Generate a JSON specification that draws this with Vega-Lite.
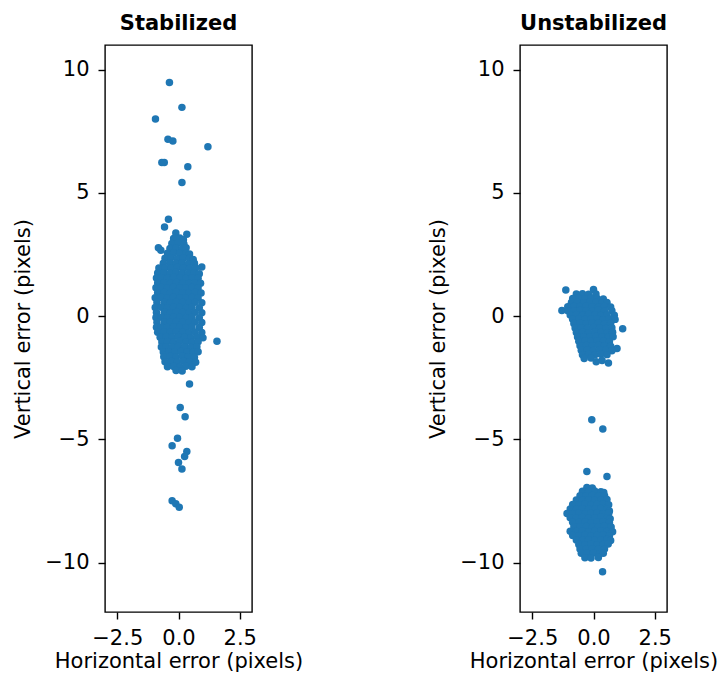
{
"$schema": "https://vega.github.io/schema/vega-lite/v6.json",
"background": "white",
"padding": {"left": 11, "top": 12, "right": 5, "bottom": 5},
"datasets": {
"stab": [
{"x":-0.37,"y":9.48},{"x":0.14,"y":8.47},{"x":-0.94,"y":8.0},{"x":-0.43,"y":7.18},{"x":-0.23,"y":7.11},{"x":1.2,"y":6.87},{"x":-0.68,"y":6.23},{"x":-0.58,"y":6.23},{"x":0.38,"y":6.06},{"x":0.14,"y":5.42},{"x":-0.41,"y":3.93},{"x":-0.57,"y":3.62},{"x":0.95,"y":1.99},{"x":1.57,"y":-1.02},{"x":0.45,"y":-2.75},{"x":0.07,"y":-3.7},{"x":0.27,"y":-4.08},{"x":-0.04,"y":-4.95},{"x":-0.26,"y":-5.26},{"x":0.34,"y":-5.49},{"x":0.25,"y":-5.69},{"x":0.0,"y":-5.94},{"x":0.14,"y":-6.2},{"x":-0.26,"y":-7.49},{"x":-0.11,"y":-7.61},{"x":0.03,"y":-7.75},
{"x":-0.82,"y":2.78},{"x":-0.72,"y":2.67},
{"x":-0.11,"y":3.37},{"x":0.34,"y":3.32},
{"x":-0.2,"y":3.15},{"x":0.05,"y":3.17},{"x":0.2,"y":3.1},
{"x":-0.27,"y":2.95},{"x":-0.02,"y":2.97},{"x":0.22,"y":2.93},
{"x":-0.35,"y":2.75},{"x":-0.1,"y":2.77},{"x":0.15,"y":2.74},{"x":0.31,"y":2.78},
{"x":-0.45,"y":2.55},{"x":-0.2,"y":2.57},{"x":0.05,"y":2.54},{"x":0.3,"y":2.56},{"x":0.45,"y":2.52},
{"x":-0.55,"y":2.35},{"x":-0.3,"y":2.37},{"x":-0.05,"y":2.33},{"x":0.2,"y":2.36},{"x":0.45,"y":2.34},{"x":0.6,"y":2.3},
{"x":-0.62,"y":2.15},{"x":-0.35,"y":2.17},{"x":-0.1,"y":2.14},{"x":0.15,"y":2.16},{"x":0.4,"y":2.13},{"x":0.65,"y":2.15},
{"x":-0.8,"y":1.95},{"x":-0.55,"y":1.96},{"x":-0.3,"y":1.94},{"x":-0.05,"y":1.97},{"x":0.2,"y":1.95},{"x":0.45,"y":1.93},{"x":0.7,"y":1.96},
{"x":-0.85,"y":1.75},{"x":-0.6,"y":1.76},{"x":-0.35,"y":1.74},{"x":-0.1,"y":1.77},{"x":0.15,"y":1.75},{"x":0.4,"y":1.73},{"x":0.65,"y":1.76},{"x":0.85,"y":1.72},
{"x":-0.9,"y":1.55},{"x":-0.7,"y":1.56},{"x":-0.45,"y":1.54},{"x":-0.2,"y":1.57},{"x":0.05,"y":1.55},{"x":0.3,"y":1.53},{"x":0.55,"y":1.56},{"x":0.8,"y":1.54},
{"x":-0.85,"y":1.35},{"x":-0.58,"y":1.36},{"x":-0.33,"y":1.34},{"x":-0.08,"y":1.37},{"x":0.17,"y":1.35},{"x":0.42,"y":1.33},{"x":0.67,"y":1.36},{"x":0.9,"y":1.34},
{"x":-0.92,"y":1.15},{"x":-0.7,"y":1.16},{"x":-0.45,"y":1.14},{"x":-0.2,"y":1.17},{"x":0.05,"y":1.15},{"x":0.3,"y":1.13},{"x":0.55,"y":1.16},{"x":0.8,"y":1.14},
{"x":-0.85,"y":0.95},{"x":-0.58,"y":0.96},{"x":-0.33,"y":0.94},{"x":-0.08,"y":0.97},{"x":0.17,"y":0.95},{"x":0.42,"y":0.93},{"x":0.67,"y":0.96},{"x":0.92,"y":0.94},
{"x":-0.95,"y":0.75},{"x":-0.7,"y":0.76},{"x":-0.45,"y":0.74},{"x":-0.2,"y":0.77},{"x":0.05,"y":0.75},{"x":0.3,"y":0.73},{"x":0.55,"y":0.76},{"x":0.8,"y":0.74},
{"x":-0.88,"y":0.55},{"x":-0.58,"y":0.56},{"x":-0.33,"y":0.54},{"x":-0.08,"y":0.57},{"x":0.17,"y":0.55},{"x":0.42,"y":0.53},{"x":0.67,"y":0.56},{"x":0.95,"y":0.54},
{"x":-0.95,"y":0.35},{"x":-0.7,"y":0.36},{"x":-0.45,"y":0.34},{"x":-0.2,"y":0.37},{"x":0.05,"y":0.35},{"x":0.3,"y":0.33},{"x":0.55,"y":0.36},{"x":0.85,"y":0.34},
{"x":-0.9,"y":0.15},{"x":-0.58,"y":0.16},{"x":-0.33,"y":0.14},{"x":-0.08,"y":0.17},{"x":0.17,"y":0.15},{"x":0.42,"y":0.13},{"x":0.67,"y":0.16},{"x":0.95,"y":0.14},
{"x":-0.92,"y":-0.05},{"x":-0.7,"y":-0.04},{"x":-0.45,"y":-0.06},{"x":-0.2,"y":-0.03},{"x":0.05,"y":-0.05},{"x":0.3,"y":-0.07},{"x":0.55,"y":-0.04},{"x":0.85,"y":-0.06},
{"x":-0.88,"y":-0.25},{"x":-0.58,"y":-0.24},{"x":-0.33,"y":-0.26},{"x":-0.08,"y":-0.23},{"x":0.17,"y":-0.25},{"x":0.42,"y":-0.27},{"x":0.67,"y":-0.24},{"x":0.95,"y":-0.26},
{"x":-0.9,"y":-0.45},{"x":-0.7,"y":-0.44},{"x":-0.45,"y":-0.46},{"x":-0.2,"y":-0.43},{"x":0.05,"y":-0.45},{"x":0.3,"y":-0.47},{"x":0.55,"y":-0.44},{"x":0.85,"y":-0.46},
{"x":-0.85,"y":-0.65},{"x":-0.58,"y":-0.64},{"x":-0.33,"y":-0.66},{"x":-0.08,"y":-0.63},{"x":0.17,"y":-0.65},{"x":0.42,"y":-0.67},{"x":0.67,"y":-0.64},{"x":0.95,"y":-0.66},
{"x":-0.75,"y":-0.85},{"x":-0.5,"y":-0.84},{"x":-0.25,"y":-0.86},{"x":0.0,"y":-0.83},{"x":0.25,"y":-0.85},{"x":0.5,"y":-0.87},{"x":0.75,"y":-0.84},{"x":1.0,"y":-0.88},
{"x":-0.68,"y":-1.05},{"x":-0.45,"y":-1.04},{"x":-0.2,"y":-1.06},{"x":0.05,"y":-1.03},{"x":0.3,"y":-1.05},{"x":0.55,"y":-1.07},{"x":0.8,"y":-1.04},
{"x":-0.7,"y":-1.25},{"x":-0.5,"y":-1.24},{"x":-0.25,"y":-1.26},{"x":0.0,"y":-1.23},{"x":0.25,"y":-1.25},{"x":0.5,"y":-1.27},{"x":0.75,"y":-1.24},
{"x":-0.62,"y":-1.45},{"x":-0.4,"y":-1.44},{"x":-0.15,"y":-1.46},{"x":0.1,"y":-1.43},{"x":0.35,"y":-1.45},{"x":0.6,"y":-1.47},{"x":0.8,"y":-1.44},
{"x":-0.6,"y":-1.65},{"x":-0.35,"y":-1.64},{"x":-0.1,"y":-1.66},{"x":0.15,"y":-1.63},{"x":0.4,"y":-1.65},{"x":0.65,"y":-1.67},
{"x":-0.55,"y":-1.85},{"x":-0.3,"y":-1.84},{"x":-0.05,"y":-1.86},{"x":0.2,"y":-1.83},{"x":0.45,"y":-1.85},{"x":0.7,"y":-1.87},
{"x":-0.45,"y":-2.05},{"x":-0.2,"y":-2.04},{"x":0.05,"y":-2.06},{"x":0.3,"y":-2.03},{"x":0.55,"y":-2.05},
{"x":-0.1,"y":-2.2},{"x":0.15,"y":-2.22}
],
"unstab": [
{"x":-1.13,"y":1.06},{"x":0.0,"y":1.08},{"x":1.19,"y":-0.51},{"x":0.96,"y":-1.31},{"x":-0.07,"y":-4.2},{"x":0.38,"y":-4.58},{"x":-0.27,"y":-6.3},{"x":0.55,"y":-6.5},{"x":0.37,"y":-10.37},
{"x":-0.7,"y":0.9},{"x":-0.45,"y":0.91},{"x":-0.2,"y":0.89},{"x":0.1,"y":0.9},
{"x":-0.85,"y":0.72},{"x":-0.6,"y":0.73},{"x":-0.35,"y":0.71},{"x":-0.1,"y":0.74},{"x":0.15,"y":0.72},{"x":0.4,"y":0.7},
{"x":-0.9,"y":0.55},{"x":-0.65,"y":0.56},{"x":-0.4,"y":0.54},{"x":-0.15,"y":0.57},{"x":0.1,"y":0.55},{"x":0.35,"y":0.53},{"x":0.55,"y":0.56},
{"x":-1.05,"y":0.38},{"x":-0.8,"y":0.39},{"x":-0.55,"y":0.37},{"x":-0.3,"y":0.4},{"x":-0.05,"y":0.38},{"x":0.2,"y":0.36},{"x":0.45,"y":0.39},{"x":0.7,"y":0.37},
{"x":-1.29,"y":0.23},{"x":-1.05,"y":0.22},{"x":-0.8,"y":0.21},{"x":-0.55,"y":0.23},{"x":-0.3,"y":0.22},{"x":-0.05,"y":0.2},{"x":0.2,"y":0.23},{"x":0.45,"y":0.21},{"x":0.75,"y":0.22},
{"x":-0.95,"y":0.05},{"x":-0.7,"y":0.06},{"x":-0.45,"y":0.04},{"x":-0.2,"y":0.07},{"x":0.05,"y":0.05},{"x":0.3,"y":0.03},{"x":0.55,"y":0.06},{"x":0.85,"y":0.04},
{"x":-0.85,"y":-0.12},{"x":-0.6,"y":-0.11},{"x":-0.35,"y":-0.13},{"x":-0.1,"y":-0.1},{"x":0.15,"y":-0.12},{"x":0.4,"y":-0.14},{"x":0.65,"y":-0.11},{"x":0.88,"y":-0.13},
{"x":-0.8,"y":-0.3},{"x":-0.55,"y":-0.29},{"x":-0.3,"y":-0.31},{"x":-0.05,"y":-0.28},{"x":0.2,"y":-0.3},{"x":0.45,"y":-0.32},{"x":0.7,"y":-0.29},
{"x":-0.75,"y":-0.48},{"x":-0.5,"y":-0.47},{"x":-0.25,"y":-0.49},{"x":0.0,"y":-0.46},{"x":0.25,"y":-0.48},{"x":0.5,"y":-0.5},{"x":0.75,"y":-0.47},
{"x":-0.7,"y":-0.66},{"x":-0.45,"y":-0.65},{"x":-0.2,"y":-0.67},{"x":0.05,"y":-0.64},{"x":0.3,"y":-0.66},{"x":0.55,"y":-0.68},{"x":0.78,"y":-0.65},
{"x":-0.65,"y":-0.84},{"x":-0.4,"y":-0.83},{"x":-0.15,"y":-0.85},{"x":0.1,"y":-0.82},{"x":0.35,"y":-0.84},{"x":0.6,"y":-0.86},{"x":0.8,"y":-0.83},
{"x":-0.6,"y":-1.02},{"x":-0.35,"y":-1.01},{"x":-0.1,"y":-1.03},{"x":0.15,"y":-1.0},{"x":0.4,"y":-1.02},{"x":0.65,"y":-1.04},
{"x":-0.55,"y":-1.2},{"x":-0.3,"y":-1.19},{"x":-0.05,"y":-1.21},{"x":0.2,"y":-1.18},{"x":0.45,"y":-1.2},{"x":0.7,"y":-1.22},
{"x":-0.5,"y":-1.38},{"x":-0.25,"y":-1.37},{"x":0.0,"y":-1.39},{"x":0.25,"y":-1.36},{"x":0.5,"y":-1.38},{"x":0.75,"y":-1.4},
{"x":-0.45,"y":-1.56},{"x":-0.2,"y":-1.55},{"x":0.05,"y":-1.57},{"x":0.3,"y":-1.54},{"x":0.55,"y":-1.56},
{"x":-0.38,"y":-1.72},{"x":-0.1,"y":-1.7},{"x":0.11,"y":-1.85},{"x":0.35,"y":-1.8},{"x":0.61,"y":-1.9},
{"x":-0.27,"y":-6.95},{"x":-0.05,"y":-6.97},
{"x":-0.45,"y":-7.1},{"x":-0.2,"y":-7.11},{"x":0.05,"y":-7.09},{"x":0.3,"y":-7.12},{"x":0.42,"y":-7.15},
{"x":-0.55,"y":-7.28},{"x":-0.3,"y":-7.29},{"x":-0.05,"y":-7.27},{"x":0.2,"y":-7.3},{"x":0.45,"y":-7.28},
{"x":-0.7,"y":-7.46},{"x":-0.45,"y":-7.47},{"x":-0.2,"y":-7.45},{"x":0.05,"y":-7.48},{"x":0.3,"y":-7.46},{"x":0.55,"y":-7.44},
{"x":-0.85,"y":-7.64},{"x":-0.6,"y":-7.65},{"x":-0.35,"y":-7.63},{"x":-0.1,"y":-7.66},{"x":0.15,"y":-7.64},{"x":0.4,"y":-7.62},{"x":0.62,"y":-7.65},
{"x":-0.95,"y":-7.82},{"x":-0.7,"y":-7.83},{"x":-0.45,"y":-7.81},{"x":-0.2,"y":-7.84},{"x":0.05,"y":-7.82},{"x":0.3,"y":-7.8},{"x":0.55,"y":-7.83},{"x":0.65,"y":-7.9},
{"x":-1.08,"y":-8.0},{"x":-0.85,"y":-8.01},{"x":-0.6,"y":-7.99},{"x":-0.35,"y":-8.02},{"x":-0.1,"y":-8.0},{"x":0.15,"y":-7.98},{"x":0.4,"y":-8.01},{"x":0.62,"y":-8.0},
{"x":-0.95,"y":-8.18},{"x":-0.7,"y":-8.19},{"x":-0.45,"y":-8.17},{"x":-0.2,"y":-8.2},{"x":0.05,"y":-8.18},{"x":0.3,"y":-8.16},{"x":0.55,"y":-8.19},{"x":0.68,"y":-8.22},
{"x":-0.85,"y":-8.36},{"x":-0.6,"y":-8.37},{"x":-0.35,"y":-8.35},{"x":-0.1,"y":-8.38},{"x":0.15,"y":-8.36},{"x":0.4,"y":-8.34},{"x":0.65,"y":-8.37},
{"x":-0.8,"y":-8.54},{"x":-0.55,"y":-8.55},{"x":-0.3,"y":-8.53},{"x":-0.05,"y":-8.56},{"x":0.2,"y":-8.54},{"x":0.45,"y":-8.52},{"x":0.72,"y":-8.55},
{"x":-0.95,"y":-8.72},{"x":-0.7,"y":-8.73},{"x":-0.45,"y":-8.71},{"x":-0.2,"y":-8.74},{"x":0.05,"y":-8.72},{"x":0.3,"y":-8.7},{"x":0.55,"y":-8.73},{"x":0.78,"y":-8.74},
{"x":-0.85,"y":-8.9},{"x":-0.6,"y":-8.91},{"x":-0.35,"y":-8.89},{"x":-0.1,"y":-8.92},{"x":0.15,"y":-8.9},{"x":0.4,"y":-8.88},{"x":0.65,"y":-8.91},
{"x":-0.7,"y":-9.08},{"x":-0.45,"y":-9.09},{"x":-0.2,"y":-9.07},{"x":0.05,"y":-9.1},{"x":0.3,"y":-9.08},{"x":0.55,"y":-9.06},{"x":0.7,"y":-9.1},
{"x":-0.6,"y":-9.26},{"x":-0.35,"y":-9.27},{"x":-0.1,"y":-9.25},{"x":0.15,"y":-9.28},{"x":0.4,"y":-9.26},{"x":0.6,"y":-9.24},
{"x":-0.55,"y":-9.44},{"x":-0.3,"y":-9.45},{"x":-0.05,"y":-9.43},{"x":0.2,"y":-9.46},{"x":0.45,"y":-9.44},
{"x":-0.5,"y":-9.62},{"x":-0.25,"y":-9.63},{"x":0.0,"y":-9.61},{"x":0.25,"y":-9.64},{"x":0.4,"y":-9.62},
{"x":-0.35,"y":-9.8},{"x":-0.1,"y":-9.81},{"x":0.2,"y":-9.79}
]
},
"hconcat": [
{
"title": {"text": "Stabilized"},
"width": 147, "height": 567,
"data": {"name": "stab"},
"mark": {"type": "circle", "size": 56, "color": "#1f77b4", "opacity": 1},
"encoding": {
"x": {"field": "x", "type": "quantitative", "scale": {"domain": [-3, 3], "nice": false, "zero": false}, "axis": {"values": [-2.5, 0, 2.5], "labelExpr": "replace(format(datum.value, '.1f'), '-', '−')", "title": "Horizontal error (pixels)"}},
"y": {"field": "y", "type": "quantitative", "scale": {"domain": [-12, 11], "nice": false, "zero": false}, "axis": {"values": [-10, -5, 0, 5, 10], "labelExpr": "replace(format(datum.value, 'd'), '-', '−')", "title": "Vertical error (pixels)"}}
}
},
{
"title": {"text": "Unstabilized"},
"width": 147, "height": 567,
"data": {"name": "unstab"},
"mark": {"type": "circle", "size": 56, "color": "#1f77b4", "opacity": 1},
"encoding": {
"x": {"field": "x", "type": "quantitative", "scale": {"domain": [-3, 3], "nice": false, "zero": false}, "axis": {"values": [-2.5, 0, 2.5], "labelExpr": "replace(format(datum.value, '.1f'), '-', '−')", "title": "Horizontal error (pixels)"}},
"y": {"field": "y", "type": "quantitative", "scale": {"domain": [-12, 11], "nice": false, "zero": false}, "axis": {"values": [-10, -5, 0, 5, 10], "labelExpr": "replace(format(datum.value, 'd'), '-', '−')", "title": "Vertical error (pixels)"}}
}
}
],
"spacing": 268,
"bounds": "flush",
"config": {
"font": "DejaVu Sans",
"view": {"stroke": "black", "strokeWidth": 1.4},
"axis": {"grid": false, "domain": false, "ticks": true, "tickColor": "black", "tickSize": 7, "tickWidth": 1.4, "labelFontSize": 21, "labelColor": "black", "labelPadding": 9, "titleFontSize": 21, "titleFontWeight": "normal", "titleColor": "black", "titlePadding": 11},
"axisX": {"titlePadding": 2, "labelPadding": 8},
"title": {"fontSize": 21, "fontWeight": "bold", "color": "black", "offset": 11}
}
}
